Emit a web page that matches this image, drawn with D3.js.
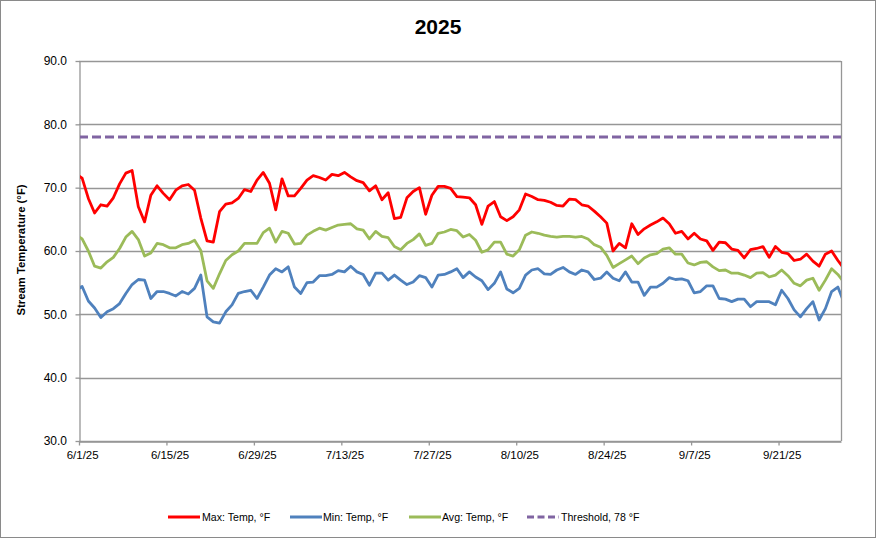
<!DOCTYPE html>
<html>
<head>
<meta charset="utf-8">
<script src="https://cdn.jsdelivr.net/npm/d3@7"></script>
<style>
  html, body { margin: 0; padding: 0; background: #fff; }
  svg { display: block; font-family: "Liberation Sans", Arial, sans-serif; }
</style>
</head>
<body>
<svg id="chart" width="876" height="538"></svg>
<script>
// ---- Data (daily values; first and last days lie just outside the axis and are clipped) ----
const startDate = "2025-05-31";
const endDate = "2025-10-01";
const tickLabels = ["6/1/25", "6/15/25", "6/29/25", "7/13/25", "7/27/25", "8/10/25", "8/24/25", "9/7/25", "9/21/25"];
const yTicks = [30, 40, 50, 60, 70, 80, 90];
const threshold = 78;

const maxTemp = [
 72.2, 71.5, 68.3, 66.0, 67.3, 67.1, 68.4, 70.6, 72.3, 72.7,
 67.0, 64.6, 68.8, 70.3, 69.1, 68.1, 69.6, 70.3, 70.5, 69.6,
 65.2, 61.6, 61.4, 66.2, 67.4, 67.6, 68.3, 69.7, 69.4, 71.2,
 72.4, 70.7, 66.5, 71.4, 68.7, 68.7, 69.9, 71.2, 71.9, 71.6,
 71.2, 72.1, 71.9, 72.4, 71.7, 71.1, 70.8, 69.5, 70.3, 68.1,
 69.2, 65.1, 65.3, 68.4, 69.4, 70.0, 65.8, 68.8, 70.2, 70.2,
 69.9, 68.6, 68.5, 68.4, 67.3, 64.2, 67.1, 67.8, 65.4, 64.8,
 65.4, 66.5, 69.0, 68.6, 68.1, 68.0, 67.7, 67.2, 67.1, 68.2,
 68.1, 67.3, 67.1, 66.3, 65.4, 64.4, 60.0, 61.2, 60.5, 64.3,
 62.6, 63.5, 64.1, 64.6, 65.2, 64.3, 62.8, 63.1, 61.9, 62.8,
 61.9, 61.6, 60.1, 61.4, 61.3, 60.3, 60.1, 58.9, 60.2, 60.4,
 60.7, 59.0, 60.7, 59.8, 59.6, 58.5, 58.7, 59.5, 58.4, 57.6,
 59.5, 60.0, 58.5, 57.2
];
const minTemp = [
 53.8, 54.4, 52.1, 51.0, 49.5, 50.4, 50.9, 51.7, 53.3, 54.7,
 55.5, 55.4, 52.5, 53.6, 53.6, 53.3, 52.9, 53.6, 53.2, 54.1,
 56.2, 49.6, 48.8, 48.6, 50.4, 51.5, 53.3, 53.6, 53.8, 52.5,
 54.3, 56.2, 57.2, 56.7, 57.5, 54.3, 53.3, 55.0, 55.1, 56.1,
 56.1, 56.3, 56.9, 56.7, 57.6, 56.7, 56.3, 54.6, 56.5, 56.5,
 55.4, 56.2, 55.4, 54.7, 55.1, 56.1, 55.8, 54.3, 56.2, 56.3,
 56.7, 57.2, 55.8, 56.7, 55.9, 55.3, 53.9, 54.9, 56.7, 54.0,
 53.4, 54.1, 56.2, 57.0, 57.2, 56.4, 56.3, 57.0, 57.4, 56.7,
 56.3, 57.0, 56.7, 55.5, 55.7, 56.7, 55.7, 55.3, 56.7, 55.1,
 55.1, 53.0, 54.3, 54.3, 54.9, 55.8, 55.5, 55.6, 55.3, 53.4,
 53.6, 54.5, 54.5, 52.5, 52.4, 52.0, 52.4, 52.4, 51.2, 52.0,
 52.0, 52.0, 51.5, 53.8, 52.5, 50.7, 49.6, 50.9, 52.0, 49.1,
 50.9, 53.6, 54.3, 51.8
];
const avgTemp = [
 62.6, 61.9, 60.0, 57.6, 57.3, 58.3, 59.0, 60.4, 62.2, 63.1,
 61.8, 59.2, 59.7, 61.2, 61.0, 60.5, 60.5, 61.0, 61.2, 61.7,
 60.1, 55.3, 54.1, 56.4, 58.5, 59.4, 60.0, 61.2, 61.2, 61.2,
 62.9, 63.6, 61.4, 63.1, 62.8, 61.1, 61.2, 62.5, 63.1, 63.6,
 63.3, 63.7, 64.1, 64.2, 64.3, 63.5, 63.3, 61.9, 63.1, 62.3,
 62.1, 60.7, 60.2, 61.2, 61.8, 62.7, 60.9, 61.2, 62.8, 63.0,
 63.4, 63.2, 62.2, 62.6, 61.7, 59.8, 60.2, 61.4, 61.4, 59.5,
 59.2, 60.2, 62.5, 63.0, 62.8, 62.5, 62.3, 62.2, 62.3, 62.3,
 62.2, 62.3, 61.9, 61.0, 60.6, 59.3, 57.4, 58.0, 58.6, 59.2,
 58.0, 58.9, 59.4, 59.6, 60.3, 60.5, 59.5, 59.5, 58.1, 57.8,
 58.2, 58.3, 57.5, 56.9, 57.0, 56.5, 56.5, 56.2, 55.8, 56.5,
 56.6, 55.9, 56.2, 57.0, 56.1, 54.9, 54.5, 55.4, 55.7, 53.8,
 55.4, 57.2, 56.3, 55.0
];

const seriesNames = ["Max: Temp, °F", "Min: Temp, °F", "Avg: Temp, °F", "Threshold, 78 °F"];
const seriesColors = ["#FF0000", "#4F81BD", "#9BBB59", "#8064A2"];

// ---- Build ----
const parse = d3.timeParse("%Y-%m-%d");
const dates = d3.timeDay.range(parse(startDate), d3.timeDay.offset(parse(endDate), 1));
const axisStart = parse("2025-06-01");
const axisEnd = parse("2025-10-01");

const svg = d3.select("#chart");
const W = 876, H = 538;
const plot = { left: 79, right: 841, top: 61, bottom: 441 };

const x = d3.scaleTime().domain([axisStart, axisEnd]).range([plot.left, plot.right]);
const y = d3.scaleLinear().domain([30, 90]).range([plot.bottom, plot.top]);
const mid = d => d3.timeHour.offset(d, 12);

// outer border
svg.append("rect").attr("x", 0.5).attr("y", 0.5).attr("width", W - 1).attr("height", H - 1)
  .attr("fill", "#fff").attr("stroke", "#8a8a8a").attr("stroke-width", 1);

// title
svg.append("text").attr("x", 438).attr("y", 34).attr("text-anchor", "middle")
  .attr("font-size", 21).attr("font-weight", "bold").attr("fill", "#000").text("2025");

// y label
svg.append("text").attr("transform", "translate(25,250) rotate(-90)").attr("text-anchor", "middle")
  .attr("font-size", 11.3).attr("font-weight", "bold").attr("fill", "#000").text("Stream Temperature (°F)");

// gridlines
svg.append("g").selectAll("line").data(yTicks).join("line")
  .attr("x1", plot.left).attr("x2", plot.right)
  .attr("y1", d => Math.round(y(d)) + 0.5).attr("y2", d => Math.round(y(d)) + 0.5)
  .attr("stroke", "#969696").attr("stroke-width", 1.3);

// plot border (right)
svg.append("line").attr("x1", plot.right + 0.5).attr("x2", plot.right + 0.5)
  .attr("y1", plot.top).attr("y2", plot.bottom).attr("stroke", "#969696").attr("stroke-width", 1.3);

// y axis
const yAxis = d3.axisLeft(y).tickValues(yTicks).tickSize(4).tickSizeOuter(0).tickFormat(d3.format(".1f"));
const gy = svg.append("g").attr("transform", `translate(${plot.left + 0.5},0)`).call(yAxis);
gy.select(".domain").attr("stroke", "#969696").attr("stroke-width", 1.3);
gy.selectAll(".tick line").attr("stroke", "#969696").attr("stroke-width", 1.3);
gy.selectAll(".tick text").attr("font-size", 12).attr("fill", "#000").attr("font-family", "Liberation Sans, Arial, sans-serif").attr("x", -12.5);

// x axis
const tickDates = d3.timeDay.every(14).range ? d3.timeDay.range(axisStart, axisEnd, 14) : [];
const xAxis = d3.axisBottom(x).tickValues(tickDates).tickSize(4).tickSizeOuter(0).tickFormat((d, i) => tickLabels[i]);
const gx = svg.append("g").attr("transform", `translate(0,${plot.bottom + 0.5})`).call(xAxis);
gx.select(".domain").attr("stroke", "#969696").attr("stroke-width", 1.3);
gx.selectAll(".tick line").attr("stroke", "#969696").attr("stroke-width", 1.3);
gx.selectAll(".tick text").attr("font-size", 11.5).attr("fill", "#000")
  .attr("font-family", "Liberation Sans, Arial, sans-serif")
  .attr("x", (x(mid(axisStart)) - x(axisStart))).attr("y", 9);

// clip
svg.append("clipPath").attr("id", "clip").append("rect")
  .attr("x", plot.left + 1).attr("y", plot.top - 5).attr("width", plot.right - plot.left - 1).attr("height", plot.bottom - plot.top + 5);

const line = d3.line().x((d, i) => x(mid(dates[i]))).y(d => y(d));
const lines = svg.append("g").attr("clip-path", "url(#clip)");

// threshold
lines.append("line").attr("x1", plot.left).attr("x2", plot.right)
  .attr("y1", y(threshold)).attr("y2", y(threshold))
  .attr("stroke", seriesColors[3]).attr("stroke-width", 3).attr("stroke-dasharray", "9,4");

[[avgTemp, 2], [minTemp, 1], [maxTemp, 0]].forEach(([vals, ci]) => {
  lines.append("path").datum(vals).attr("d", line)
    .attr("fill", "none").attr("stroke", seriesColors[ci]).attr("stroke-width", 2.8)
    .attr("stroke-linejoin", "round").attr("stroke-linecap", "round");
});

// legend
const legendItems = [
  { x: 168, tx: 202, dash: null },
  { x: 290, tx: 323, dash: null },
  { x: 409, tx: 442, dash: null },
  { x: 527, tx: 561, dash: "7,3.5" }
];
const lg = svg.append("g");
legendItems.forEach((it, i) => {
  lg.append("line").attr("x1", it.x).attr("x2", it.x + 32).attr("y1", 517).attr("y2", 517)
    .attr("stroke", seriesColors[i]).attr("stroke-width", 3)
    .attr("stroke-dasharray", it.dash);
  lg.append("text").attr("x", it.tx).attr("y", 521).attr("font-size", 10.6).attr("fill", "#000")
    .text(seriesNames[i]);
});
</script>
</body>
</html>
